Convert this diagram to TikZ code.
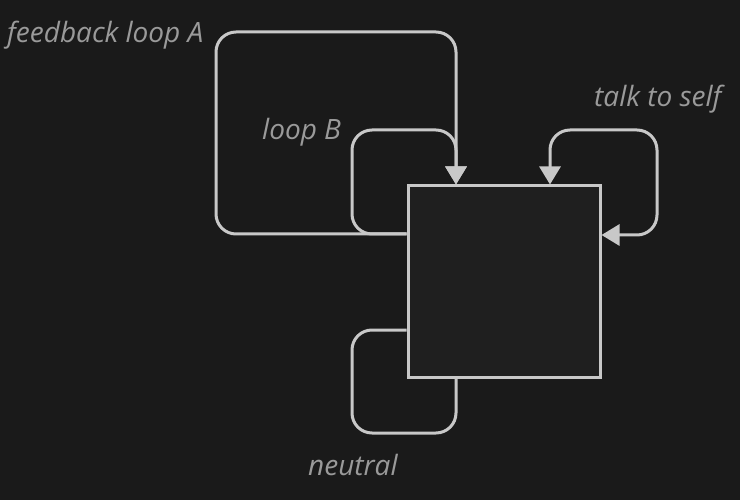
\documentclass[tikz,border=0pt]{standalone}
\usepackage{fontspec}
\setmainfont{Open Sans}
\usetikzlibrary{arrows.meta}
\definecolor{bg}{HTML}{1A1A1A}
\definecolor{boxfill}{HTML}{1F1F1F}
\definecolor{stroke}{HTML}{C8C8C8}
\definecolor{labelc}{HTML}{9A9A9A}
\pgfdeclarelayer{backdrop}
\pgfdeclarelayer{loops}
\pgfsetlayers{backdrop,loops,main}
\tikzset{
  loopline/.style={draw=stroke, line width=3pt, rounded corners=20pt},
  tiphead/.style={-{Triangle[width=21pt,length=18pt]}},
  bothheads/.style={{Triangle[width=21pt,length=18pt]}-{Triangle[width=21pt,length=18pt]}},
  lbl/.style={text=labelc, font=\fontsize{28}{32}\selectfont\itshape, anchor=base west, inner sep=0pt},
  corebox/.style={draw=stroke, fill=boxfill, line width=3pt, minimum width=192pt, minimum height=191pt, inner sep=0pt}
}
\begin{document}
\begin{tikzpicture}[x=1pt,y=-1pt]
\begin{pgfonlayer}{backdrop}
\fill[bg] (0,0) rectangle (740,500);
\end{pgfonlayer}
\useasboundingbox (0,0) rectangle (740,500);
\node[corebox] (core) at (504,281.5) {};
% anchor coordinates on the box
\coordinate (aS) at (core.west |- 0,234);
\coordinate (aE) at (core.north -| 456,0);
\coordinate (tS) at (core.north -| 550,0);
\coordinate (tE) at (core.east |- 0,235);
\coordinate (nS) at (core.west |- 0,330);
\coordinate (nE) at (core.south -| 456,0);
\begin{pgfonlayer}{loops}
\draw[loopline, tiphead] (aS) -- (216,234) -- (216,32) -- (456,32) -- (aE);
\draw[loopline, tiphead] (aS) -- (352,234) -- (352,130) -- (456,130) -- (aE);
\draw[loopline, bothheads] (tS) -- (550,130) -- (657,130) -- (657,235) -- (tE);
\draw[loopline] (nS) -- (352,330) -- (352,433) -- (456,433) -- (nE);
\end{pgfonlayer}
% labels
\node[lbl] (labA) at (7,43) {feedback loop A};
\node[lbl] (labB) at (262,140) {loop B};
\node[lbl] (labT) at (594,107) {talk to self};
\node[lbl] (labN) at (308,475) {neutral};
\end{tikzpicture}
\end{document}
